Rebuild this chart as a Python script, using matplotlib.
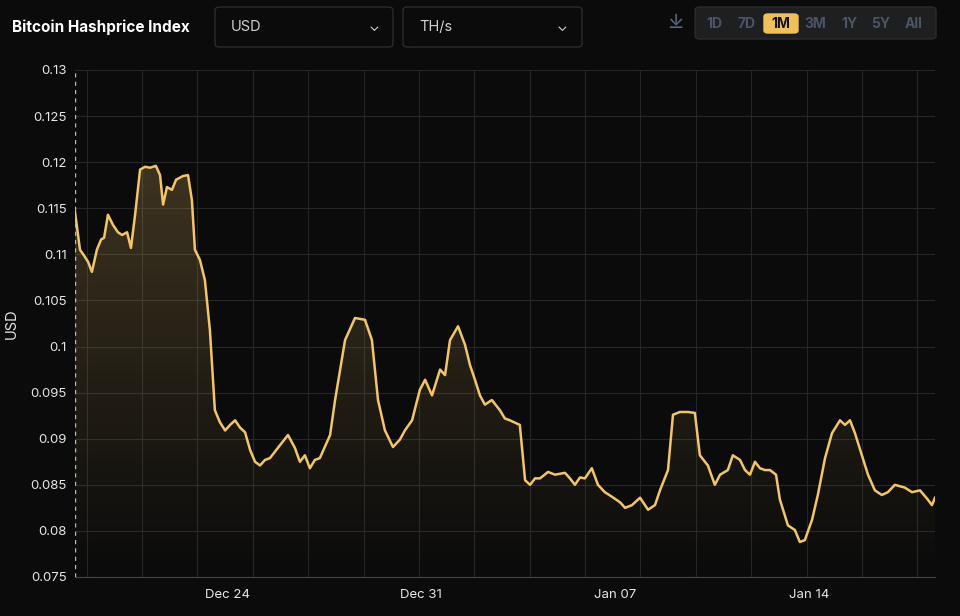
import matplotlib
matplotlib.use("Agg")
import matplotlib.pyplot as plt
import matplotlib.dates as mdates
from matplotlib.patches import FancyBboxPatch
from matplotlib.colors import LinearSegmentedColormap
import numpy as np
import datetime as dt

title = "Bitcoin Hashprice Index"
currency = "USD"
unit = "TH/s"
ranges = ["1D", "7D", "1M", "3M", "1Y", "5Y", "All"]
active_range = "1M"

start = dt.datetime(2023, 12, 18, 12)
day_offsets = [0, .18, .32, .47, .61, .79, .94, 1.05, 1.19, 1.37, 1.55, 1.70, 1.88, 2.02, 2.17, 2.35, 2.53, 2.71, 2.92, 3.07,
               3.18, 3.32, 3.50, 3.65, 3.90, 4.08, 4.22, 4.33, 4.51, 4.69, 4.87, 5.05, 5.23, 5.42, 5.60, 5.78, 5.96, 6.14, 6.32, 6.50,
               6.68, 6.86, 7.04, 7.40, 7.69, 7.94, 8.12, 8.30, 8.48, 8.66, 8.84, 9.21, 9.39, 9.75, 10.11, 10.47, 10.72, 10.94, 11.19, 11.48,
               11.73, 11.91, 12.17, 12.45, 12.64, 12.89, 13.18, 13.36, 13.54, 13.83, 14.08, 14.26, 14.44, 14.62, 14.80, 15.05, 15.34, 15.52, 15.70, 16.06,
               16.25, 16.43, 16.61, 16.79, 17.08, 17.33, 17.69, 17.87, 18.05, 18.23, 18.41, 18.66, 18.88, 19.13, 19.39, 19.68, 19.86, 20.11, 20.40, 20.69,
               20.94, 21.12, 21.41, 21.59, 21.84, 22.13, 22.38, 22.56, 22.85, 23.10, 23.29, 23.57, 23.75, 24.01, 24.19, 24.37, 24.55, 24.73, 24.91, 25.09,
               25.31, 25.45, 25.74, 25.99, 26.17, 26.35, 26.61, 26.82, 27.08, 27.33, 27.62, 27.80, 27.98, 28.16, 28.41, 28.63, 28.88, 29.13, 29.35, 29.60,
               29.96, 30.22, 30.51, 30.79, 30.94, 31.05]
hashprice = [0.1146, 0.1105, 0.1099, 0.1092, 0.1081, 0.1105, 0.1116, 0.1118, 0.1143, 0.1132, 0.1124, 0.1121, 0.1124, 0.1107, 0.1143, 0.1192, 0.1195, 0.1194, 0.1196, 0.1186,
             0.1154, 0.1173, 0.1170, 0.1181, 0.1185, 0.1186, 0.1159, 0.1105, 0.1094, 0.1072, 0.1018, 0.0931, 0.0918, 0.0909, 0.0915, 0.0920, 0.0912, 0.0907, 0.0888, 0.0875,
             0.0871, 0.0877, 0.0879, 0.0893, 0.0904, 0.0890, 0.0875, 0.0882, 0.0868, 0.0877, 0.0879, 0.0904, 0.0942, 0.1007, 0.1031, 0.1029, 0.1007, 0.0942, 0.0909, 0.0891,
             0.0899, 0.0909, 0.0920, 0.0953, 0.0964, 0.0947, 0.0975, 0.0969, 0.1007, 0.1022, 0.1002, 0.0980, 0.0964, 0.0947, 0.0937, 0.0942, 0.0931, 0.0922, 0.0920, 0.0915,
             0.0855, 0.0850, 0.0857, 0.0857, 0.0864, 0.0861, 0.0863, 0.0857, 0.0850, 0.0858, 0.0857, 0.0868, 0.0850, 0.0842, 0.0837, 0.0831, 0.0825, 0.0828, 0.0836, 0.0823,
             0.0828, 0.0844, 0.0866, 0.0926, 0.0929, 0.0929, 0.0928, 0.0882, 0.0871, 0.0850, 0.0861, 0.0866, 0.0882, 0.0877, 0.0866, 0.0861, 0.0875, 0.0868, 0.0866, 0.0866,
             0.0861, 0.0834, 0.0806, 0.0801, 0.0788, 0.0790, 0.0812, 0.0839, 0.0879, 0.0906, 0.0920, 0.0915, 0.0920, 0.0906, 0.0882, 0.0861, 0.0844, 0.0839, 0.0842, 0.0850,
             0.0847, 0.0842, 0.0844, 0.0834, 0.0828, 0.0836]
y_ticks = [0.075, 0.08, 0.085, 0.09, 0.095, 0.1, 0.105, 0.11, 0.115, 0.12, 0.125, 0.13]
y_tick_labels = ["0.075", "0.08", "0.085", "0.09", "0.095", "0.1", "0.105", "0.11", "0.115", "0.12", "0.125", "0.13"]
x_tick_dates = ["2023-12-24", "2023-12-31", "2024-01-07", "2024-01-14"]
x_tick_labels = ["Dec 24", "Dec 31", "Jan 07", "Jan 14"]

n = min(len(day_offsets), len(hashprice))
times = [start + dt.timedelta(days=d) for d in day_offsets[:n]]
vals = np.array(hashprice[:n])
xnum = mdates.date2num(times)

BG = "#0b0b0b"
LINE = "#f3c56b"
GRID = "#262626"
plt.rcParams['font.family'] = ['Inter', 'DejaVu Sans']

fig = plt.figure(figsize=(9.6, 6.16), dpi=100, facecolor=BG)
ax = fig.add_axes([75/960, 1-577/616, 860/960, 507/616])
ax.set_facecolor(BG)
ymin, ymax = 0.075, 0.13
ax.set_ylim(ymin, ymax)
xlo, xhi = xnum[0], xnum[-1]
ax.set_xlim(xlo, xhi)

grad = np.linspace(0, 1, 256).reshape(-1, 1)
cmap = LinearSegmentedColormap.from_list("g", [(0.95, 0.77, 0.42, 0.0), (0.95, 0.77, 0.42, 0.22)])
im = ax.imshow(grad, extent=[xlo, xhi, ymin, vals.max()], origin="lower", aspect="auto", cmap=cmap, zorder=1)
poly = ax.fill_between(xnum, vals, ymin, color="none")
im.set_clip_path(poly.get_paths()[0], transform=ax.transData)

ax.plot(xnum, vals, color=LINE, lw=1.8, zorder=3, solid_joinstyle="round")

ax.set_yticks(y_ticks)
ax.set_yticklabels(y_tick_labels)
grid_days = [mdates.date2num(dt.datetime(2023, 12, 18, 22) + dt.timedelta(days=2*i)) for i in range(16)]
for g in grid_days:
    ax.axvline(g, color=GRID, lw=0.8, zorder=0)
for yv in y_ticks:
    ax.axhline(yv, color=GRID, lw=0.8, zorder=0)
ax.axvline(xlo, color="#bbbbbb", lw=1, ls=(0, (3, 3)), zorder=4)

ax.set_xticks([mdates.date2num(dt.datetime.fromisoformat(d)) for d in x_tick_dates])
ax.set_xticklabels(x_tick_labels)
ax.tick_params(colors="#e6e6e6", labelsize=9.5, length=0, pad=6)
ax.tick_params(axis="x", pad=9)
for s in ax.spines.values():
    s.set_visible(False)
ax.spines["bottom"].set_visible(True)
ax.spines["bottom"].set_color("#444444")
ax.set_ylabel("USD", color="#e6e6e6", fontsize=10.5, labelpad=8)

fig.text(12/960, 1-27/616, title, color="white", fontsize=11, fontweight="bold", va="center")
def box(x0, x1, y0, y1, fc, ec, r=5):
    p = FancyBboxPatch((x0/960, 1-y1/616), (x1-x0)/960, (y1-y0)/616,
                       boxstyle=f"round,pad=0,rounding_size={r/960}", transform=fig.transFigure,
                       fc=fc, ec=ec, lw=1)
    fig.patches.append(p)
box(215, 393, 7, 47, BG, "#2c2c2c")
box(403, 582, 7, 47, BG, "#2c2c2c")
fig.text(231/960, 1-27/616, currency, color="#d0d0d0", fontsize=10.5, va="center")
fig.text(419/960, 1-27/616, unit, color="#d0d0d0", fontsize=10.5, va="center")
fig.text(374/960, 1-27/616, "⌄", color="#d0d0d0", fontsize=10, va="center", ha="center")
fig.text(562/960, 1-27/616, "⌄", color="#d0d0d0", fontsize=10, va="center", ha="center")
fig.text(675/960, 1-23/616, "⤓", color="#5a6a80", fontsize=14, va="center", ha="center")
box(695, 936, 7, 39, "#1e1f21", "#2c2c2c")
rx = [714, 747, 781, 815, 849, 881, 914]
for lab, x in zip(ranges, rx):
    if lab == active_range:
        box(x-17, x+17, 14, 33, "#f0c05a", "#f0c05a", r=4)
        fig.text(x/960, 1-23.5/616, lab, color="#111111", fontsize=10, fontweight="bold", ha="center", va="center")
    else:
        fig.text(x/960, 1-23.5/616, lab, color="#4a5566", fontsize=10, fontweight="bold", ha="center", va="center")

fig.savefig("out.png", dpi=100, facecolor=BG)
